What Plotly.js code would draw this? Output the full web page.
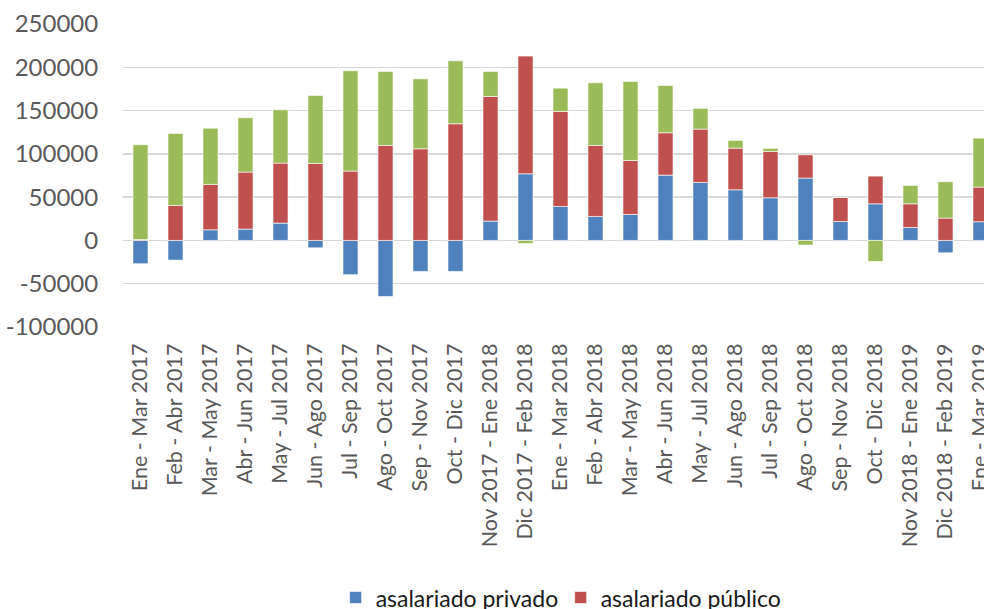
<!DOCTYPE html>
<html>
<head>
<meta charset="utf-8">
<script src="https://cdn.plot.ly/plotly-3.0.1.min.js"></script>
<style>
html, body { margin: 0; padding: 0; overflow: hidden; background: #fff; }
#chart { width: 1010px; height: 660px; }
</style>
</head>
<body>
<div id="chart"></div>
<script>
const categories = [
  "Ene - Mar 2017", "Feb - Abr 2017", "Mar - May 2017", "Abr - Jun 2017",
  "May - Jul 2017", "Jun - Ago 2017", "Jul - Sep 2017", "Ago - Oct 2017",
  "Sep - Nov 2017", "Oct - Dic 2017", "Nov 2017 - Ene 2018", "Dic 2017 - Feb 2018",
  "Ene - Mar 2018", "Feb - Abr 2018", "Mar - May 2018", "Abr - Jun 2018",
  "May - Jul 2018", "Jun - Ago 2018", "Jul - Sep 2018", "Ago - Oct 2018",
  "Sep - Nov 2018", "Oct - Dic 2018", "Nov 2018 - Ene 2019", "Dic 2018 - Feb 2019",
  "Ene - Mar 2019"
];
const privado = [
  -26900, -22700, 12300, 13100, 20000, -8500, -39600, -64700, -35800, -35800,
  22300, 77000, 39300, 27700, 30000, 75400, 67000, 58500, 49300, 72000,
  21900, 42300, 15000, -14300, 21600
];
const publico = [
  1000, 40400, 52400, 65800, 69300, 88900, 80100, 109700, 105900, 134800,
  144000, 135900, 109700, 82000, 62400, 49000, 61600, 48100, 53500, 26900,
  27800, 32000, 27300, 25800, 40000
];
const noAsalariado = [
  109500, 83200, 65000, 62800, 61600, 78600, 115900, 85500, 80800, 72700,
  28900, -3500, 26900, 72400, 91300, 54600, 23900, 8900, 3500, -5400,
  0, -24300, 21200, 42000, 56600
];
const seriesNames = ["asalariado privado", "asalariado público", "no asalariado"];
const yTicks = [-100000, -50000, 0, 50000, 100000, 150000, 200000, 250000];

const FONT = "Lato, 'Noto Sans', sans-serif";
const lineCol = "rgba(255,255,255,0.6)";

const traces = [
  { type: "bar", name: seriesNames[0], x: categories, y: privado,
    marker: { color: "#4F81BD", line: { color: lineCol, width: 1 } }, legend: "legend" },
  { type: "bar", name: seriesNames[1], x: categories, y: publico,
    marker: { color: "#C0504D", line: { color: lineCol, width: 1 } }, legend: "legend" },
  { type: "bar", name: seriesNames[2], x: categories, y: noAsalariado,
    marker: { color: "#9BBB59", line: { color: lineCol, width: 1 } }, legend: "legend2" }
];

const layout = {
  width: 1010, height: 660,
  margin: { l: 123, r: 12, t: 24, b: 333, pad: 0, autoexpand: false },
  paper_bgcolor: "#ffffff", plot_bgcolor: "#ffffff",
  barmode: "relative",
  bargap: 0.57,
  font: { family: FONT, color: "#595959", size: 23 },
  xaxis: {
    type: "category",
    tickangle: -90,
    tickfont: { family: FONT, size: 21.5, color: "#595959" },
    ticks: "outside", ticklen: 7, tickcolor: "rgba(0,0,0,0)",
    showgrid: false, showline: false, zeroline: false,
    automargin: false, fixedrange: true
  },
  yaxis: {
    range: [-100000, 250000],
    tickvals: yTicks,
    ticktext: yTicks.map(String),
    tickfont: { family: FONT, size: 24, color: "#595959" },
    ticks: "outside", ticklen: 19, tickcolor: "rgba(0,0,0,0)",
    showgrid: true, gridcolor: "#D9D9D9", gridwidth: 1.5,
    zeroline: true, zerolinecolor: "#D9D9D9", zerolinewidth: 1.5,
    showline: false, automargin: false, fixedrange: true
  },
  showlegend: true,
  legend: {
    orientation: "h", x: 0.243, xanchor: "left", y: -0.822, yanchor: "top",
    font: { family: FONT, size: 23, color: "#1a1a1a" },
    entrywidth: 180, entrywidthmode: "pixels",
    itemwidth: 30, bgcolor: "rgba(0,0,0,0)"
  },
  legend2: {
    orientation: "h", x: 0.5, xanchor: "center", y: -0.96, yanchor: "top",
    font: { family: FONT, size: 23, color: "#1a1a1a" },
    bgcolor: "rgba(0,0,0,0)"
  }
};

Plotly.newPlot("chart", traces, layout, { displayModeBar: false, staticPlot: true });
</script>
</body>
</html>
